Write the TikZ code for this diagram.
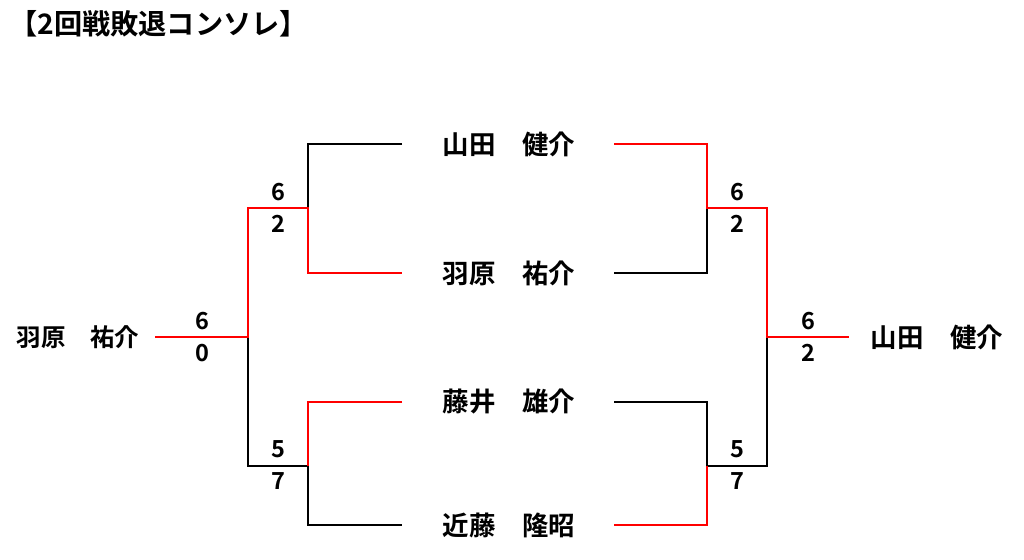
\documentclass[tikz,border=0pt]{standalone}
\usepackage{fontspec}
\setmainfont{Noto Sans CJK JP}[BoldFont={Noto Sans CJK JP Bold}]
\begin{document}
\begin{tikzpicture}[x=1pt,y=-1pt,
  nm/.style={font=\bfseries\fontsize{26.5}{26.5}\selectfont, inner sep=0pt},
  nms/.style={font=\bfseries\fontsize{24.5}{24.5}\selectfont, inner sep=0pt},
  sc/.style={font=\bfseries\fontsize{23.5}{23.5}\selectfont, inner sep=0pt},
  ttl/.style={font=\bfseries\fontsize{28.2}{28.2}\selectfont, inner sep=0pt, anchor=west},
  win/.style={draw=red, line width=2.8pt},
  lose/.style={draw=black, line width=2.8pt}]
\useasboundingbox (0,0) rectangle (1024,559);
% title
\node[ttl] (title) at (9,24) {【2回戦敗退コンソレ】};
% names
\node[nms] (nL) at (78,337) {羽原　祐介};
\node[nm] (n1) at (509,144) {山田　健介};
\node[nm] (n2) at (509,273) {羽原　祐介};
\node[nm] (n3) at (509,402) {藤井　雄介};
\node[nm] (n4) at (509,525) {近藤　隆昭};
\node[nm] (nR) at (937,337) {山田　健介};
% coordinates left
\coordinate (L0) at (155,337);
\coordinate (J1) at (248,337);
\coordinate (J1a) at (248,208);
\coordinate (J1b) at (248,466);
\coordinate (J2) at (308,208);
\coordinate (J3) at (308,466);
\coordinate (A1) at (308,144);
\coordinate (A2) at (308,273);
\coordinate (A3) at (308,402);
\coordinate (A4) at (308,525);
\coordinate (E1) at (402,144);
\coordinate (E2) at (402,273);
\coordinate (E3) at (402,402);
\coordinate (E4) at (402,525);
% coordinates right
\coordinate (F1) at (614,144);
\coordinate (F2) at (614,273);
\coordinate (F3) at (614,402);
\coordinate (F4) at (614,525);
\coordinate (K1) at (707,144);
\coordinate (K2) at (707,208);
\coordinate (K3) at (707,273);
\coordinate (K4) at (707,402);
\coordinate (K5) at (707,466);
\coordinate (K6) at (707,525);
\coordinate (M1) at (767,208);
\coordinate (M2) at (767,337);
\coordinate (M3) at (767,466);
\coordinate (R0) at (849,337);
% left bracket
\draw[lose] (J1) -- (J1b) -- (J3);
\draw[lose] (E1) -- (A1) -- (J2);
\draw[lose] (J3) -- (A4) -- (E4);
\draw[win] (L0) -- (J1) -- (J1a) -- (J2) -- (A2) -- (E2);
\draw[win] (E3) -- (A3) -- (J3);
% right bracket
\draw[lose] (F2) -- (K3) -- (K2);
\draw[lose] (F3) -- (K4) -- (K5) -- (M3) -- (M2);
\draw[win] (F1) -- (K1) -- (K2) -- (M1) -- (M2) -- (R0);
\draw[win] (F4) -- (K6) -- (K5);
% scores
\node[sc] (s1) at (202,321) {6};
\node[sc] (s2) at (202,353) {0};
\node[sc] (s3) at (278,192) {6};
\node[sc] (s4) at (278,224) {2};
\node[sc] (s5) at (278,449) {5};
\node[sc] (s6) at (278,481) {7};
\node[sc] (s7) at (737,192) {6};
\node[sc] (s8) at (737,224) {2};
\node[sc] (s9) at (737,449) {5};
\node[sc] (s10) at (737,481) {7};
\node[sc] (s11) at (808,321) {6};
\node[sc] (s12) at (808,353) {2};
\end{tikzpicture}
\end{document}
